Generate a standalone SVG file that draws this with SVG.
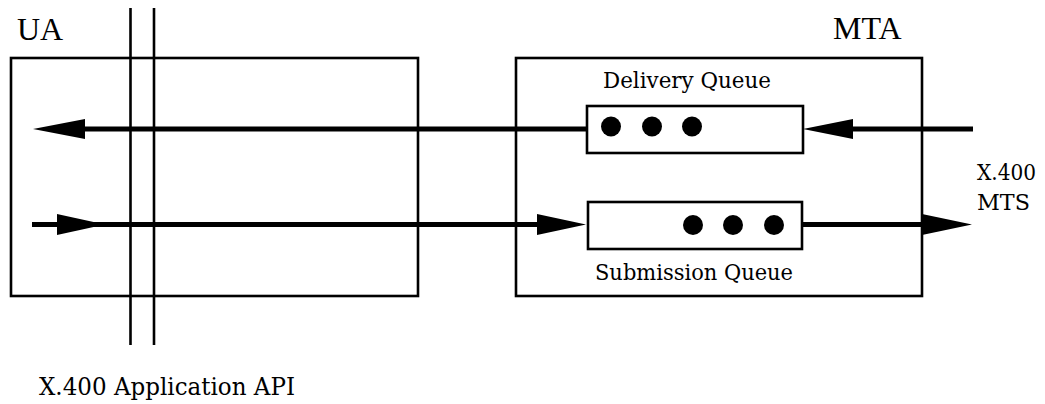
<svg xmlns="http://www.w3.org/2000/svg" width="1045" height="404" viewBox="0 0 1045 404">
<style>
.box{fill:none;stroke:#000;stroke-width:2.6}
.q{fill:#fff;stroke:#000;stroke-width:2.6}
.api{stroke:#000;stroke-width:2.6;fill:none}
.flow{stroke:#000;stroke-width:5;fill:none}
.head{fill:#000}
.dot{fill:#000}
.big{font-family:"Liberation Serif",serif;font-size:32px;fill:#000}
.lbl{font-family:"DejaVu Serif","Liberation Serif",serif;font-size:21.5px;fill:#000}
.lbl2{font-family:"DejaVu Serif","Liberation Serif",serif;font-size:24px;fill:#000}
.lbl3{font-family:"DejaVu Serif","Liberation Serif",serif;font-size:22px;fill:#000}
</style>
<rect width="1045" height="404" fill="#fff"/>
<g id="ua">
<rect class="box" x="11" y="58" width="407" height="238"/>
<text class="big" x="17" y="40">UA</text>
</g>
<g id="mta">
<rect class="box" x="516" y="58" width="406" height="238"/>
<text class="big" x="833" y="39">MTA</text>
</g>
<g id="connectors">
<line class="flow" x1="80" y1="129" x2="588" y2="129"/>
<polygon class="head" points="33,129 85,119 85,139"/>
<line class="flow" x1="850" y1="129" x2="973" y2="129"/>
<polygon class="head" points="803,129 853,119 853,139"/>
<line class="flow" x1="32" y1="224.5" x2="540" y2="224.5"/>
<polygon class="head" points="105,224.5 57,214 57,235"/>
<polygon class="head" points="586,224.5 537,214 537,235"/>
<line class="flow" x1="802" y1="224.5" x2="925" y2="224.5"/>
<polygon class="head" points="972,224.5 922,214 922,235"/>
</g>
<g id="api">
<line class="api" x1="130.5" y1="8" x2="130.5" y2="345"/>
<line class="api" x1="154" y1="8" x2="154" y2="345"/>
<text class="lbl2" x="39" y="395" textLength="256" lengthAdjust="spacingAndGlyphs">X.400 Application API</text>
</g>
<g id="delivery-queue">
<rect class="q" x="587" y="106" width="216" height="47"/>
<circle class="dot" cx="611" cy="126.5" r="10"/>
<circle class="dot" cx="652" cy="126.5" r="10"/>
<circle class="dot" cx="692" cy="126.5" r="10"/>
<text class="lbl" x="603" y="88" textLength="168" lengthAdjust="spacingAndGlyphs">Delivery Queue</text>
</g>
<g id="submission-queue">
<rect class="q" x="588" y="202" width="214" height="47"/>
<circle class="dot" cx="693" cy="225" r="10"/>
<circle class="dot" cx="733" cy="225" r="10"/>
<circle class="dot" cx="774" cy="225" r="10"/>
<text class="lbl" x="595" y="280" textLength="198" lengthAdjust="spacingAndGlyphs">Submission Queue</text>
</g>
<g id="mts">
<text class="lbl3" x="977" y="180" textLength="59" lengthAdjust="spacingAndGlyphs">X.400</text>
<text class="lbl3" x="977" y="210" textLength="53" lengthAdjust="spacingAndGlyphs">MTS</text>
</g>
</svg>
